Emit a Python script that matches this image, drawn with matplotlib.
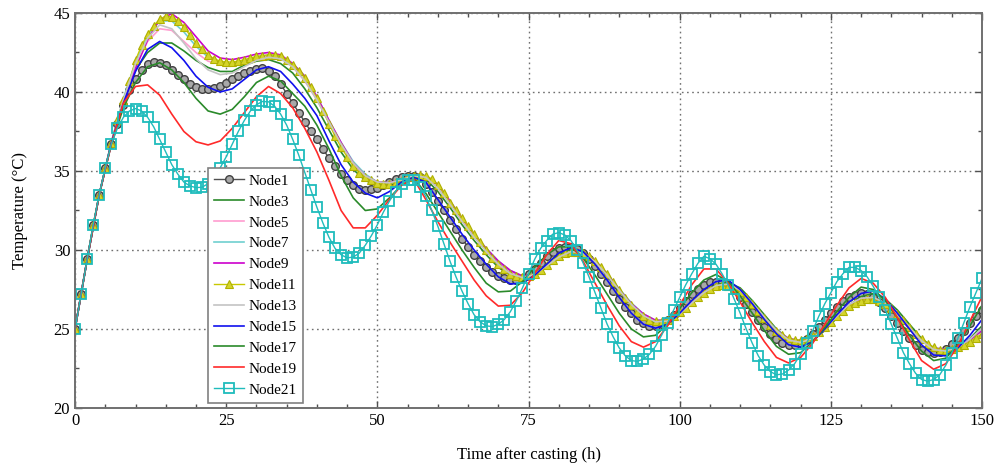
import matplotlib
matplotlib.use('Agg')
import matplotlib.pyplot as plt
from matplotlib.ticker import MultipleLocator

# time axis: hourly for the marker series, every 2 h for the plain lines
hours = list(range(0, 151))
hours2 = list(range(0, 151, 2))

node1 = [
    25.0, 27.2, 29.4, 31.6, 33.5, 35.2, 36.7, 38.0, 39.2, 40.1,
    40.8, 41.4, 41.75, 41.9, 41.85, 41.7, 41.4, 41.1, 40.8, 40.5,
    40.3, 40.2, 40.2, 40.25, 40.4, 40.6, 40.8, 41.0, 41.2, 41.35,
    41.45, 41.5, 41.3, 41.0, 40.5, 39.9, 39.3, 38.7, 38.1, 37.5,
    37.0, 36.4, 35.8, 35.3, 34.8, 34.4, 34.1, 33.85, 33.8, 33.85,
    33.95, 34.1, 34.3, 34.5, 34.6, 34.7, 34.7, 34.6, 34.2, 33.7,
    33.1, 32.5, 31.9, 31.3, 30.7, 30.2, 29.7, 29.3, 28.9, 28.6,
    28.35, 28.2, 28.1, 28.1, 28.2, 28.45, 28.8, 29.2, 29.6, 29.9,
    30.1, 30.2, 30.2, 30.05, 29.8, 29.45, 29.0, 28.5, 28.0, 27.4,
    26.9, 26.4, 26.0, 25.6, 25.35, 25.2, 25.2, 25.3, 25.55, 25.9,
    26.3, 26.75, 27.2, 27.55, 27.8, 27.95, 28.0, 27.95, 27.75, 27.45,
    27.05, 26.6, 26.1, 25.6, 25.1, 24.7, 24.35, 24.1, 24.0, 24.0,
    24.1, 24.35, 24.7, 25.1, 25.55, 26.0, 26.4, 26.75, 27.0, 27.15,
    27.25, 27.2, 27.0, 26.7, 26.3, 25.85, 25.35, 24.85, 24.4, 24.0,
    23.7, 23.55, 23.5, 23.55, 23.75, 24.05, 24.45, 24.9, 25.35, 25.8,
    26.2]

node11 = [
    25.0, 27.2, 29.4, 31.6, 33.5, 35.2, 36.8, 38.2, 39.5, 40.7,
    42.0, 42.95, 43.65, 44.2, 44.6, 44.8, 44.75, 44.5, 44.1, 43.6,
    43.1, 42.7, 42.35, 42.1, 41.95, 41.9, 41.9, 41.95, 42.05, 42.15,
    42.25, 42.3, 42.35, 42.35, 42.3, 42.0, 41.7, 41.3, 40.9, 40.3,
    39.6, 38.8, 38.0, 37.2, 36.5, 35.9, 35.3, 34.9, 34.6, 34.4,
    34.25, 34.15, 34.2, 34.3, 34.45, 34.6, 34.7, 34.75, 34.7, 34.5,
    34.1, 33.6, 33.0, 32.5, 32.0, 31.5, 31.0, 30.5, 30.0, 29.5,
    29.1, 28.8, 28.5, 28.35, 28.3, 28.35, 28.5, 28.75, 29.05, 29.35,
    29.6, 29.8, 29.9, 29.9, 29.8, 29.6, 29.3, 28.9, 28.45, 27.95,
    27.45, 26.95, 26.5, 26.1, 25.8, 25.6, 25.5, 25.5, 25.6, 25.8,
    26.05, 26.35, 26.7, 27.0, 27.3, 27.55, 27.7, 27.8, 27.75, 27.6,
    27.35, 27.0, 26.6, 26.15, 25.7, 25.25, 24.9, 24.6, 24.4, 24.3,
    24.3, 24.4, 24.55, 24.8, 25.1, 25.45, 25.8, 26.15, 26.45, 26.65,
    26.8, 26.9, 26.9, 26.8, 26.6, 26.3, 25.95, 25.55, 25.1, 24.7,
    24.35, 24.05, 23.85, 23.7, 23.7, 23.75, 23.85, 24.0, 24.2, 24.45,
    24.7]

node21 = [
    25.0, 27.2, 29.4, 31.6, 33.5, 35.2, 36.7, 37.7, 38.4, 38.8,
    38.95, 38.8, 38.4, 37.8, 37.0, 36.2, 35.4, 34.8, 34.3, 34.05,
    33.95, 33.97, 34.2, 34.6, 35.2, 35.9, 36.7, 37.5, 38.2, 38.8,
    39.2, 39.4, 39.38, 39.1, 38.6, 37.9, 37.0, 36.0, 34.9, 33.8,
    32.7, 31.7, 30.8, 30.1, 29.7, 29.5, 29.55, 29.8, 30.3, 30.9,
    31.6, 32.4, 33.1, 33.7, 34.2, 34.45, 34.4, 34.0, 33.4, 32.5,
    31.5, 30.4, 29.3, 28.3, 27.4, 26.6, 25.9, 25.45, 25.2, 25.15,
    25.3, 25.6, 26.1, 26.8, 27.6, 28.5, 29.4, 30.1, 30.6, 31.0,
    31.1, 30.95, 30.6, 30.0, 29.2, 28.3, 27.3, 26.3, 25.3, 24.5,
    23.8, 23.3, 23.0, 22.95, 23.1, 23.4, 23.9, 24.6, 25.4, 26.2,
    27.0, 27.8, 28.5, 29.15, 29.6, 29.45, 29.1, 28.5, 27.8, 26.9,
    26.0, 25.0, 24.1, 23.3, 22.7, 22.3, 22.1, 22.15, 22.4, 22.8,
    23.4, 24.1, 24.9, 25.8, 26.6, 27.3, 28.0, 28.5, 28.9, 28.9,
    28.7, 28.3, 27.7, 27.0, 26.2, 25.3, 24.4, 23.5, 22.8, 22.2,
    21.8, 21.7, 21.8, 22.1, 22.7, 23.5, 24.4, 25.4, 26.4, 27.3,
    28.2]

node3 = [
    25.0, 29.4, 33.5, 36.8, 39.4, 41.4, 42.5, 43.1, 43.1, 42.6,
    42.0, 41.55, 41.3, 41.3, 41.7, 41.95, 42.05, 41.8, 41.2, 40.2,
    39.0, 37.6, 36.2, 35.1, 34.4, 34.1, 34.2, 34.5, 34.7, 34.5,
    33.7, 32.7, 31.6, 30.6, 29.7, 28.9, 28.4, 28.25, 28.5, 29.1,
    29.7, 30.05, 29.9, 29.3, 28.4, 27.4, 26.5, 25.8, 25.35, 25.4,
    25.9, 26.6, 27.3, 27.8, 27.95, 27.6, 26.8, 25.9, 25.0, 24.35,
    24.1, 24.3, 24.9, 25.7, 26.5, 27.05, 27.25, 26.9, 26.2, 25.3,
    24.4, 23.8, 23.55, 23.8, 24.4, 25.2]

node5 = [
    25.0, 29.4, 33.5, 36.8, 39.5, 41.6, 43.2, 44.0, 43.9, 43.2,
    42.5, 41.95, 41.75, 41.75, 41.95, 42.15, 42.3, 42.15, 41.6, 40.7,
    39.5, 38.1, 36.7, 35.5, 34.7, 34.3, 34.25, 34.45, 34.7, 34.65,
    34.0, 33.0, 31.9, 30.9, 30.0, 29.2, 28.6, 28.3, 28.45, 28.95,
    29.5, 29.85, 29.8, 29.3, 28.45, 27.5, 26.6, 25.9, 25.5, 25.55,
    26.0, 26.65, 27.3, 27.7, 27.8, 27.4, 26.6, 25.7, 24.9, 24.35,
    24.2, 24.45, 25.1, 25.8, 26.5, 26.9, 26.95, 26.6, 25.9, 25.05,
    24.25, 23.75, 23.65, 23.9, 24.35, 25.0]

node7 = [
    25.0, 29.4, 33.5, 36.8, 39.6, 41.9, 43.6, 44.5, 44.5, 43.8,
    42.9, 42.2, 41.85, 41.8, 42.0, 42.2, 42.35, 42.25, 41.8, 41.0,
    39.7, 38.2, 36.8, 35.6, 34.8, 34.3, 34.2, 34.4, 34.7, 34.7,
    34.1, 33.1, 32.0, 31.0, 30.1, 29.3, 28.7, 28.35, 28.4, 28.9,
    29.45, 29.8, 29.85, 29.35, 28.5, 27.55, 26.65, 25.95, 25.55, 25.55,
    25.95, 26.6, 27.25, 27.7, 27.8, 27.45, 26.65, 25.75, 24.95, 24.4,
    24.25, 24.5, 25.1, 25.8, 26.45, 26.85, 26.9, 26.6, 25.9, 25.05,
    24.25, 23.8, 23.7, 23.9, 24.3, 24.9]

node9 = [
    25.0, 29.4, 33.5, 36.7, 39.3, 41.5, 43.3, 44.6, 44.95, 44.4,
    43.5, 42.6, 42.15, 42.05, 42.2, 42.4, 42.5, 42.35, 41.8, 41.0,
    39.7, 38.2, 36.8, 35.5, 34.7, 34.3, 34.25, 34.45, 34.7, 34.7,
    34.15, 33.1, 32.0, 31.0, 30.1, 29.3, 28.7, 28.35, 28.45, 28.95,
    29.5, 29.85, 29.85, 29.35, 28.5, 27.5, 26.6, 25.95, 25.55, 25.55,
    25.95, 26.6, 27.25, 27.7, 27.8, 27.4, 26.6, 25.7, 24.9, 24.4,
    24.25, 24.5, 25.1, 25.8, 26.45, 26.85, 26.9, 26.55, 25.85, 25.0,
    24.25, 23.8, 23.7, 23.9, 24.3, 24.9]

node13 = [
    25.0, 29.4, 33.5, 36.8, 39.5, 41.8, 43.4, 44.25, 44.0, 43.1,
    42.1, 41.4, 41.1, 41.2, 41.6, 42.0, 42.2, 42.1, 41.6, 40.7,
    39.5, 38.1, 36.7, 35.5, 34.7, 34.3, 34.25, 34.45, 34.7, 34.6,
    33.9, 32.9, 31.8, 30.8, 29.9, 29.1, 28.5, 28.25, 28.45, 29.0,
    29.55, 29.9, 29.8, 29.25, 28.4, 27.45, 26.55, 25.85, 25.45, 25.5,
    25.95, 26.65, 27.3, 27.75, 27.85, 27.45, 26.65, 25.75, 24.9, 24.3,
    24.15, 24.4, 25.05, 25.8, 26.55, 26.95, 27.0, 26.65, 25.95, 25.1,
    24.25, 23.7, 23.6, 23.85, 24.35, 25.05]

node15 = [
    25.0, 29.4, 33.5, 36.8, 39.3, 41.3, 42.7, 43.2, 42.8, 42.0,
    41.0, 40.3, 40.0, 40.2, 40.8, 41.4, 41.6, 41.3, 40.5, 39.6,
    38.5, 36.9, 35.4, 34.3, 33.6, 33.3, 33.7, 34.3, 34.6, 34.3,
    33.2, 32.1, 31.0, 30.0, 29.1, 28.3, 27.85, 27.9, 28.4, 29.1,
    29.8, 30.15, 29.9, 29.1, 28.1, 27.0, 26.0, 25.3, 25.05, 25.3,
    26.0, 26.8, 27.5, 28.0, 28.1, 27.5, 26.6, 25.6, 24.7, 24.0,
    23.85, 24.2, 25.0, 25.9, 26.7, 27.25, 27.4, 26.9, 26.0, 25.0,
    24.0, 23.35, 23.3, 23.8, 24.6, 25.6]

node17 = [
    25.0, 29.4, 33.5, 36.7, 39.0, 40.6, 41.6, 41.85, 41.4, 40.6,
    39.6, 38.8, 38.6, 38.9, 39.7, 40.6, 41.0, 40.7, 39.9, 39.1,
    37.9, 36.4, 34.7, 33.3, 32.5, 32.6, 33.3, 34.1, 34.55, 33.6,
    32.4, 31.2, 30.0, 28.9, 27.9, 27.35, 27.4, 28.0, 28.9, 29.7,
    30.2, 30.2, 29.5, 28.4, 27.2, 26.0, 25.0, 24.5, 24.6, 25.3,
    26.3, 27.3, 28.1, 28.45, 28.0, 27.1, 26.0, 24.9, 23.9, 23.4,
    23.5, 24.2, 25.1, 26.1, 27.0, 27.65, 27.5, 26.8, 25.7, 24.6,
    23.6, 23.0, 23.15, 24.0, 25.2, 26.5]

node19 = [
    25.0, 29.4, 33.5, 36.7, 39.3, 40.35, 40.45, 39.8, 38.6, 37.5,
    36.85, 36.65, 36.9, 37.7, 38.7, 39.7, 40.35, 39.9, 39.0, 37.7,
    36.2, 34.4, 32.5, 31.4, 31.4, 32.2, 33.2, 34.1, 34.5, 33.2,
    31.8, 30.5, 29.3, 28.1, 27.1, 26.45, 26.5, 27.3, 28.5, 29.7,
    30.6, 30.4, 29.3, 27.9, 26.5, 25.2, 24.2, 23.85, 24.2, 25.2,
    26.5, 27.8, 28.8, 28.8, 27.9, 26.7, 25.4, 24.2, 23.2, 22.85,
    23.2, 24.1, 25.3, 26.5, 27.6, 28.2, 27.9, 27.0, 25.7, 24.3,
    23.0, 22.45, 22.8, 23.9, 25.5, 27.05]

plt.rcParams['font.family'] = ['Liberation Serif', 'DejaVu Serif']

fig = plt.figure(figsize=(9.98, 4.71), dpi=100)
ax = fig.add_axes([0.0752, 0.1338, 0.9088, 0.8386])

lw = 1.2
ax.plot(hours, node1, color='#505050', lw=1.0, marker='o', ms=5.5,
        mfc='#a8a8a8', mec='#404040', mew=1.0, label='Node1')
ax.plot(hours2, node3, color='#2a8a2a', lw=lw, label='Node3')
ax.plot(hours2, node5, color='#ff9ccf', lw=lw, label='Node5')
ax.plot(hours2, node7, color='#6fd0d0', lw=lw, label='Node7')
ax.plot(hours2, node9, color='#cc00cc', lw=lw, label='Node9')
ax.plot(hours, node11, color='#c8c800', lw=1.0, marker='^', ms=6,
        mfc='#d4d42a', mec='#b0b000', mew=0.8, label='Node11')
ax.plot(hours2, node13, color='#c4c4c4', lw=lw, label='Node13')
ax.plot(hours2, node15, color='#1010ee', lw=lw, label='Node15')
ax.plot(hours2, node17, color='#2a8a2a', lw=lw, label='Node17')
ax.plot(hours2, node19, color='#ff2a2a', lw=lw, label='Node19')
ax.plot(hours, node21, color='#1fbcbc', lw=1.0, marker='s', ms=6.5,
        mfc='none', mec='#1fbcbc', mew=1.3, label='Node21')

ax.set_xlim(0, 150)
ax.set_ylim(20, 45)
ax.xaxis.set_major_locator(MultipleLocator(25))
ax.xaxis.set_minor_locator(MultipleLocator(5))
ax.yaxis.set_major_locator(MultipleLocator(5))
ax.yaxis.set_minor_locator(MultipleLocator(2.5))
ax.tick_params(which='both', direction='in', top=True, right=True,
               colors='#505050', labelcolor='black', labelsize=12)
ax.tick_params(which='major', length=5, width=1.0)
ax.tick_params(which='minor', length=3, width=1.0)
for s in ax.spines.values():
    s.set_color('#707070')
    s.set_linewidth(1.4)
ax.grid(True, which='major', linestyle=(0, (1.2, 2.5)), color='#707070', linewidth=1.0)

ax.set_xlabel('Time after casting (h)', fontsize=12, labelpad=13)
ax.set_ylabel('Temperature (°C)', fontsize=12, labelpad=18)

leg = ax.legend(loc='upper left', bbox_to_anchor=(0.147, 0.6076), borderaxespad=0,
                fontsize=11, labelspacing=0.47, handlelength=1.9, handletextpad=0.35,
                borderpad=0.4, fancybox=False, framealpha=1, edgecolor='#808080')
leg.get_frame().set_linewidth(1.2)

fig.savefig('out.png', dpi=100)
